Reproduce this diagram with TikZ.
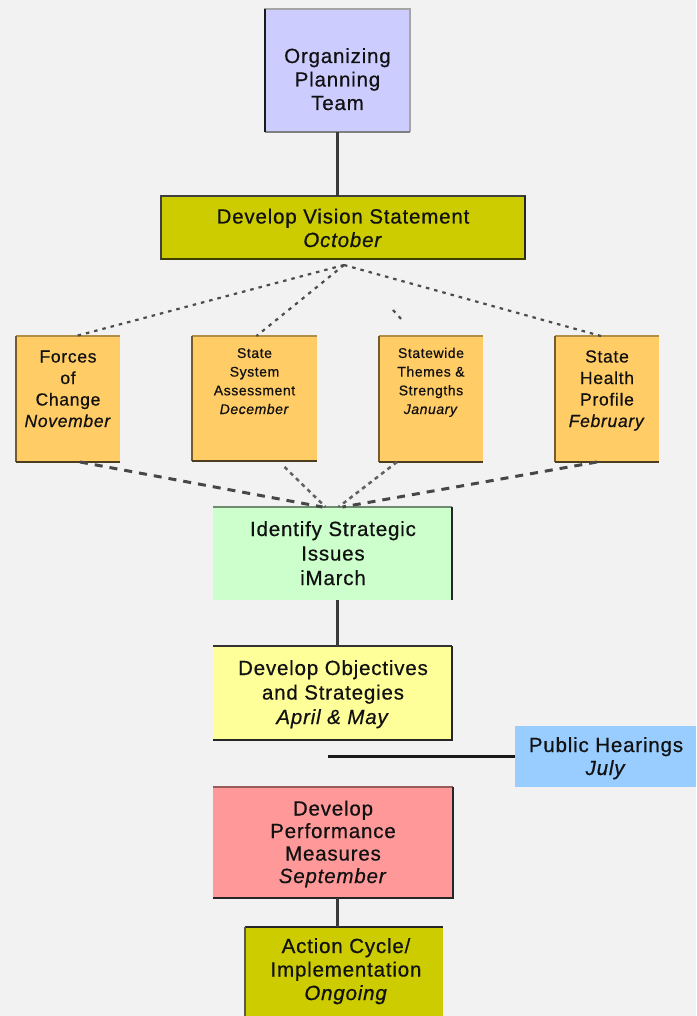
\documentclass[tikz,border=0pt]{standalone}
\usepackage{fontspec}
\setmainfont{Liberation Sans}[LetterSpace=4.0, FakeBold=0.6]
\definecolor{bgc}{HTML}{F2F2F2}
\definecolor{lav}{HTML}{CCCCFF}
\definecolor{oli}{HTML}{CCCC00}
\definecolor{ora}{HTML}{FFCC66}
\definecolor{grn}{HTML}{CCFFCC}
\definecolor{yel}{HTML}{FFFF99}
\definecolor{blu}{HTML}{99CCFF}
\definecolor{pnk}{HTML}{FF9999}
\definecolor{textc}{HTML}{111111}
\definecolor{linec}{HTML}{3A3A3A}
\newcommand{\fbig}{\fontsize{20.5}{23.5}\selectfont}
\newcommand{\fmid}{\fontsize{17.5}{21.5}\selectfont}
\newcommand{\fsml}{\fontsize{14}{18.7}\selectfont}
\tikzset{
  box/.style={draw=none, inner sep=0pt, outer sep=0pt, anchor=north west},
  txt/.style={inner sep=0pt, align=center, anchor=base, text=textc},
  solidc/.style={draw=linec, line width=3pt},
  dotc/.style={draw=black!70, line width=2.2pt, dash pattern=on 3.5pt off 5pt},
  dashA/.style={draw=black!72, line width=3pt, dash pattern=on 8pt off 7pt},
  dashB/.style={draw=black!62, line width=2.5pt, dash pattern=on 4pt off 4pt},
}
\begin{document}
\begin{tikzpicture}[x=1pt,y=-1pt]
\fill[bgc] (0,0) rectangle (696,1016);
\useasboundingbox (0,0) rectangle (696,1016);

% boxes
\node[box, fill=lav, minimum width=145pt, minimum height=123pt] (org) at (265,9) {};
\node[box, fill=oli, minimum width=364pt, minimum height=63pt] (vis) at (161,196) {};
\node[box, fill=ora, minimum width=104pt, minimum height=126pt] (f1) at (16,336) {};
\node[box, fill=ora, minimum width=125pt, minimum height=125pt] (f2) at (192,336) {};
\node[box, fill=ora, minimum width=104pt, minimum height=126pt] (f3) at (379,336) {};
\node[box, fill=ora, minimum width=104pt, minimum height=126pt] (f4) at (555,336) {};
\node[box, fill=grn, minimum width=239pt, minimum height=93pt] (ide) at (213,507) {};
\node[box, fill=yel, minimum width=239pt, minimum height=94pt] (obj) at (213,646) {};
\node[box, fill=blu, minimum width=181pt, minimum height=61pt] (pub) at (515,726) {};
\node[box, fill=pnk, minimum width=240pt, minimum height=111pt] (perf) at (213,787) {};
\node[box, fill=oli, minimum width=198pt, minimum height=89pt] (act) at (245,927) {};

% 3D edges
\draw[black!35, line width=1.5pt] (org.south west) -- (org.north west) -- (org.north east) -- (org.south east);
\draw[black!50, line width=1.5pt] (org.south west) -- (org.south east);
\draw[black!90, line width=2.5pt] (org.north west) -- (org.south west);

\draw[black!75, line width=1.5pt] (vis.south west) rectangle (vis.north east);
\draw[black!85, line width=2.5pt] (vis.north east) -- (vis.south east);
\draw[black!70!oli, line width=2pt] (vis.south west) -- (vis.south east);

\foreach \b in {f1,f2,f3,f4}{
  \draw[ora!70!black, line width=2pt] (\b.north west) -- (\b.north east);
  \draw[ora!45!black, line width=2.5pt] (\b.north west) -- (\b.south west);
  \draw[ora!30!black, line width=2.5pt] (\b.south west) -- (\b.south east);
}
\draw[grn!55!black, line width=2pt] (ide.north west) -- (ide.north east);
\draw[black!85, line width=2.5pt] (ide.north east) -- (ide.south east);

\draw[black!80, line width=2pt] (obj.north west) -- (obj.north east);
\draw[black!85, line width=2.5pt] (obj.north east) -- (obj.south east) -- (obj.south west);

\draw[pnk!60!black, line width=1.5pt] (perf.north west) -- (perf.north east);
\draw[black!85, line width=2.5pt] (perf.north east) -- (perf.south east) -- (perf.south west);

\draw[black!85, line width=2pt] (act.north west) -- (act.north east);
\draw[black!65, line width=2pt] (act.north west) -- (act.south west);

% texts (anchor base = baseline of the last line)
\node[txt, font=\fbig] (orgt) at (337.5,110) {Organizing\\Planning\\Team};
\node[txt, font=\fbig] (vist) at (343,247) {Develop Vision Statement\\\textit{October}};
\node[txt, font=\fmid] (f1t) at (68,427) {Forces\\of\\Change\\\textit{November}};
\node[txt, font=\fsml] (f2t) at (254.5,414) {State\\System\\Assessment\\\textit{December}};
\node[txt, font=\fsml] (f3t) at (431,414) {Statewide\\Themes \&\\Strengths\\\textit{January}};
\node[txt, font=\fmid] (f4t) at (607,427) {State\\Health\\Profile\\\textit{February}};
\node[txt, font=\fontsize{20.5}{24.5}\selectfont] (idet) at (333,585) {Identify Strategic\\Issues\\iMarch};
\node[txt, font=\fontsize{20.5}{24.5}\selectfont] (objt) at (333,724) {Develop Objectives\\and Strategies\\\textit{April \& May}};
\node[txt, font=\fontsize{20.5}{23}\selectfont] (pubt) at (606,775) {Public Hearings\\\textit{July}};
\node[txt, font=\fontsize{20.5}{22.5}\selectfont] (perft) at (333,883) {Develop\\Performance\\Measures\\\textit{September}};
\node[txt, font=\fbig] (actt) at (346,1000) {Action Cycle/\\Implementation\\\textit{Ongoing}};

% solid connectors
\draw[solidc] (org.south) -- (org.south |- vis.north);
\draw[solidc] ([xshift=4.5pt]ide.south) -- ([xshift=4.5pt]ide.south |- obj.north);
\coordinate (ph0) at (328,756.5);
\draw[draw=black!90, line width=2.5pt] (ph0) -- (pub.west);
\draw[solidc] ([xshift=4pt]perf.south) -- ([xshift=4pt]perf.south |- act.north);

% dotted connectors from vision
\coordinate (apex) at (344,265);
\draw[dotc] (apex) -- ([xshift=8pt]f1.north);
\draw[dotc] (apex) -- ([xshift=2pt]f2.north);
\draw[dotc] (apex) -- ([xshift=-6pt]f4.north);
\coordinate (sw1) at (393,310);
\coordinate (sw2) at (402,320);
\draw[dotc] (sw1) -- (sw2);

% dashed connectors to identify
\draw[dashA] ([xshift=12pt]f1.south) -- ([xshift=-10pt]ide.north);
\draw[dashB] ([xshift=30pt,yshift=-6pt]f2.south) -- ([xshift=-7pt]ide.north);
\draw[dashB] ([xshift=-34pt]f3.south) -- ([xshift=6pt]ide.north);
\draw[dashA] ([xshift=-10pt]f4.south) -- ([xshift=10pt]ide.north);
\end{tikzpicture}
\end{document}
